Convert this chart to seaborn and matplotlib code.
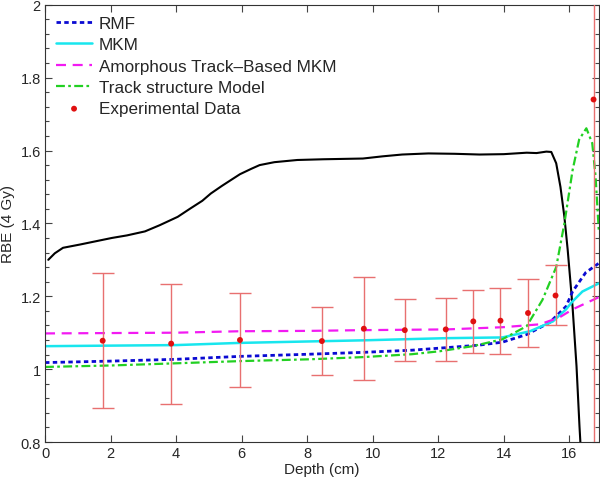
import matplotlib
matplotlib.use("Agg")
import matplotlib.pyplot as plt
import matplotlib.ticker as mticker
import seaborn as sns
import pandas as pd

# ---------------- data ----------------
dose_depth = [0.1, 0.3, 0.55, 1.07, 1.5, 2.04, 2.5, 3.05, 3.5, 4.05, 4.42, 4.8, 5.06, 5.4,
              5.64, 5.95, 6.3, 6.55, 7.0, 7.7, 8.5, 9.7, 10.3, 10.9, 11.7, 12.5, 13.26,
              14.0, 14.7, 15.0, 15.3, 15.45, 15.6, 15.73, 15.85, 15.95, 16.1, 16.22, 16.31, 16.4]
dose_curve = [1.300, 1.318, 1.333, 1.342, 1.350, 1.360, 1.367, 1.378, 1.395, 1.418, 1.440,
              1.462, 1.482, 1.503, 1.517, 1.535, 1.550, 1.560, 1.568, 1.574, 1.576, 1.578,
              1.584, 1.589, 1.592, 1.591, 1.589, 1.590, 1.594, 1.593, 1.597, 1.596, 1.565,
              1.50, 1.418, 1.328, 1.17, 1.008, 0.844, 0.70]

rmf_depth = [0, 2, 4, 5.95, 8.08, 9.7, 11.2, 12.4, 13.26, 13.96, 14.7, 15.4, 15.9, 16.1, 16.5, 16.89]
rmf_rbe = [1.018, 1.022, 1.027, 1.035, 1.041, 1.046, 1.052, 1.060, 1.066, 1.074, 1.095,
           1.128, 1.172, 1.213, 1.265, 1.29]

mkm_depth = [0, 4, 5.95, 8.08, 9.7, 12.25, 13.96, 14.8, 15.5, 15.9, 16.1, 16.4, 16.89]
mkm_rbe = [1.063, 1.066, 1.072, 1.076, 1.079, 1.085, 1.087, 1.104, 1.131, 1.164, 1.186, 1.213, 1.235]

amkm_depth = [0, 4, 5.95, 8.08, 9.7, 12.25, 13.96, 15.1, 15.7, 16.1, 16.89]
amkm_rbe = [1.098, 1.100, 1.104, 1.105, 1.107, 1.109, 1.115, 1.123, 1.142, 1.164, 1.197]

tsm_depth = [0, 2, 4, 5.95, 8.08, 9.7, 11.2, 12.04, 13.05, 13.96, 14.7, 15.18, 15.6, 15.85,
             16.1, 16.3, 16.52, 16.7, 16.8, 16.9]
tsm_rbe = [1.006, 1.010, 1.016, 1.022, 1.027, 1.033, 1.041, 1.049, 1.063, 1.082, 1.118,
           1.19, 1.28, 1.40, 1.546, 1.63, 1.661, 1.62, 1.53, 1.38]

exp_depth = [1.76, 3.85, 5.95, 8.45, 9.73, 10.98, 12.23, 13.07, 13.9, 14.74, 15.58, 16.74]
exp_rbe = [1.078, 1.070, 1.080, 1.077, 1.111, 1.107, 1.109, 1.131, 1.133, 1.154, 1.202, 1.74]
exp_low = [0.893, 0.905, 0.952, 0.983, 0.971, 1.021, 1.022, 1.045, 1.042, 1.060, 1.120, 0.5]
exp_high = [1.265, 1.235, 1.210, 1.171, 1.253, 1.192, 1.196, 1.217, 1.223, 1.247, 1.285, 3.0]

x_ticks = [0, 2, 4, 6, 8, 10, 12, 14, 16]
y_ticks = [0.8, 1.0, 1.2, 1.4, 1.6, 1.8, 2.0]
y_tick_labels = ["0.8", "1", "1.2", "1.4", "1.6", "1.8", "2"]

# ---------------- style ----------------
sns.set_style("ticks")
plt.rcParams["font.family"] = ["Liberation Sans", "DejaVu Sans"]

fig = plt.figure(figsize=(6.0, 4.81), dpi=100)
ax = fig.add_axes([0.075, 0.079, 0.923, 0.909])

sns.lineplot(x=dose_depth, y=dose_curve, ax=ax, color="black", linewidth=1.5,
             label="_nolegend_", sort=False)
sns.lineplot(x=rmf_depth, y=rmf_rbe, ax=ax, color="#0a0ad2", linewidth=2.0,
             linestyle=(0, (1.6, 1.2)), label="RMF")
sns.lineplot(x=mkm_depth, y=mkm_rbe, ax=ax, color="#18e6ee", linewidth=1.8,
             linestyle="-", label="MKM")
sns.lineplot(x=amkm_depth, y=amkm_rbe, ax=ax, color="#f21af2", linewidth=1.6,
             linestyle=(0, (4.5, 3.0)), label="Amorphous Track\u2013Based MKM")
sns.lineplot(x=tsm_depth, y=tsm_rbe, ax=ax, color="#22d022", linewidth=1.6,
             linestyle=(0, (4.0, 1.5, 1.2, 1.5)), label="Track structure Model")

err_lo = [v - l for v, l in zip(exp_rbe, exp_low)]
err_hi = [h - v for v, h in zip(exp_rbe, exp_high)]
ax.errorbar(exp_depth, exp_rbe, yerr=[err_lo, err_hi], fmt="none", ecolor="#e87070",
            elinewidth=1.0, capsize=8, capthick=1.0, zorder=3)
sns.scatterplot(x=exp_depth, y=exp_rbe, ax=ax, color="#e01010", s=18, edgecolor="none",
                label="Experimental Data", zorder=4)

ax.set_xlim(0, 16.9)
ax.set_ylim(0.8, 2.0)
ax.set_xticks(x_ticks)
ax.set_xticklabels([str(t) for t in x_ticks])
ax.set_yticks(y_ticks)
ax.set_yticklabels(y_tick_labels)
ax.yaxis.set_minor_locator(mticker.MultipleLocator(0.04))
ax.tick_params(axis="both", which="both", direction="in", top=True, right=True,
               labelsize=10.5, color="#444444", width=0.8)
ax.tick_params(axis="both", which="major", length=5, pad=3)
ax.tick_params(axis="y", which="minor", length=3)
for sp in ax.spines.values():
    sp.set_visible(True)
    sp.set_linewidth(0.8)
    sp.set_color("#333333")

ax.set_xlabel("Depth (cm)", fontsize=11, labelpad=1)
ax.set_ylabel("RBE (4 Gy)", fontsize=11)
ax.yaxis.set_label_coords(-0.055, 0.5)

leg = ax.legend(loc="upper left", frameon=False, fontsize=12.3, handlelength=2.1,
                handletextpad=0.4, labelspacing=0.37, borderaxespad=0.4,
                borderpad=0.25, markerscale=1.0)

fig.savefig("out.png", dpi=100)
